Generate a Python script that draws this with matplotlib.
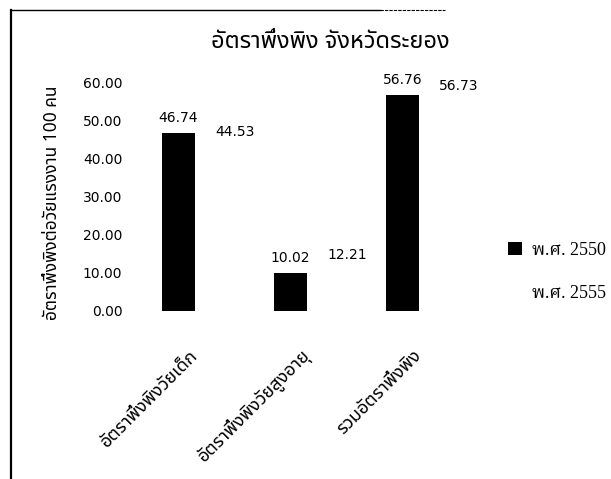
import matplotlib
matplotlib.use("Agg")
import matplotlib.pyplot as plt
from matplotlib.lines import Line2D
from matplotlib.patches import Patch
import numpy as np

THAI_SANS = ['Noto Sans Thai', 'Loma', 'Garuda', 'DejaVu Sans']
THAI_SERIF = ['Liberation Serif', 'Noto Serif Thai', 'Norasi', 'Noto Sans Thai', 'DejaVu Serif']
NUM = ['DejaVu Sans']
plt.rcParams['font.family'] = THAI_SANS

title = 'อัตราพึ่งพิง จังหวัดระยอง'
y_label = 'อัตราพึ่งพิงต่อวัยแรงงาน 100 คน'
categories = ['อัตราพึ่งพิงวัยเด็ก', 'อัตราพึ่งพิงวัยสูงอายุ', 'รวมอัตราพึ่งพิง']
series_names = ['พ.ศ. 2550', 'พ.ศ. 2555']
values_2550 = [46.74, 10.02, 56.76]
values_2555 = [44.53, 12.21, 56.73]
y_ticks = [0, 10, 20, 30, 40, 50, 60]

W, H = 611, 479
fig = plt.figure(figsize=(W / 100, H / 100), dpi=100)
fig.patch.set_facecolor('white')

ax = fig.add_axes([139 / W, (H - 311) / H, 336 / W, 228 / H])
x = np.arange(len(categories))
bw = 0.295

ax.bar(x - bw / 2, values_2550, bw, color='black', label=series_names[0])
ax.bar(x + bw / 2, values_2555, bw, color='white', label=series_names[1])

for xi, v in zip(x - bw / 2, values_2550):
    ax.annotate(f'{v:.2f}', (xi, v), xytext=(0, 11), textcoords='offset points',
                ha='center', va='center', fontsize=10, family=NUM)
for xi, v in zip(x + bw / 2, values_2555):
    ax.annotate(f'{v:.2f}', (xi, v), xytext=(17, 7), textcoords='offset points',
                ha='center', va='center', fontsize=10, family=NUM)

ax.set_xlim(-0.5, 2.5)
ax.set_ylim(0, 60)
ax.set_yticks(y_ticks)
ax.set_yticklabels([f'{t:.2f}' for t in y_ticks], fontsize=10, family=NUM)
ax.set_xticks(x)
ax.set_xticklabels(categories, rotation=45, ha='right', va='center',
                   rotation_mode='anchor', fontsize=13)
ax.tick_params(axis='y', length=0, pad=12)
ax.tick_params(axis='x', length=0, pad=30)
for s in ax.spines.values():
    s.set_visible(False)

ax.set_ylabel(y_label, fontsize=12.5)
ax.yaxis.set_label_coords(-(139 - 61) / 336, (311 - 203) / 228)

fig.text(330 / W, 1 - 42 / H, title, ha='center', va='center',
         fontsize=17, fontweight='bold')

handles = [Patch(facecolor='black'), Patch(facecolor='white')]
fig.legend(handles, series_names, loc='center left',
           bbox_to_anchor=(508 / W, 1 - 272 / H), frameon=False,
           handlelength=0.78, handleheight=0.78, handletextpad=0.55,
           labelspacing=1.45, borderpad=0, borderaxespad=0,
           prop={'family': THAI_SERIF, 'size': 13})

# outer frame edges
fig.add_artist(Line2D([11 / W, 11 / W], [0, 1 - 10 / H], color='black', lw=1.6,
                      transform=fig.transFigure))
fig.add_artist(Line2D([11 / W, 380 / W], [1 - 10 / H, 1 - 10 / H], color='black',
                      lw=1.0, transform=fig.transFigure))
fig.add_artist(Line2D([380 / W, 445 / W], [1 - 10 / H, 1 - 10 / H], color='black',
                      lw=0.8, ls=(0, (3, 1)), transform=fig.transFigure))

fig.savefig('out.png', dpi=100, facecolor='white')
